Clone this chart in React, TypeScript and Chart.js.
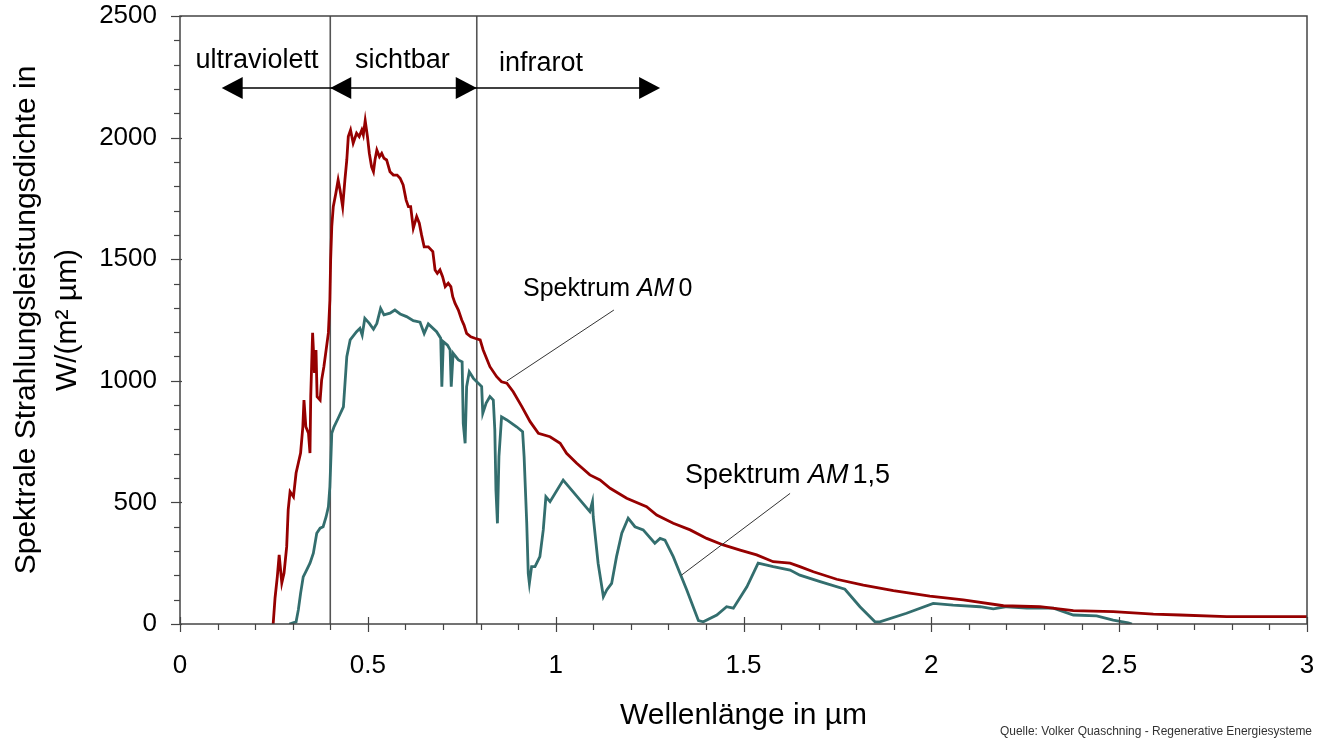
import React, { useEffect, useRef } from "react";
import { Chart, registerables } from "chart.js";

Chart.register(...registerables);

// ---------- data ----------
const am0Wavelength = [
  0.248, 0.253, 0.259, 0.264, 0.271, 0.277, 0.284, 0.288, 0.293, 0.302, 0.309, 0.315, 0.321, 0.327, 0.33, 0.335,
  0.342, 0.346, 0.348, 0.353, 0.358, 0.362, 0.365, 0.373, 0.377, 0.383, 0.389, 0.395, 0.399, 0.401, 0.404, 0.408,
  0.415, 0.421, 0.426, 0.433, 0.439, 0.444, 0.448, 0.454, 0.461, 0.47, 0.477, 0.484, 0.488, 0.493, 0.499, 0.504,
  0.51, 0.515, 0.519, 0.524, 0.531, 0.537, 0.543, 0.55, 0.559, 0.568, 0.578, 0.586, 0.594, 0.602, 0.608, 0.614,
  0.621, 0.63, 0.637, 0.643, 0.65, 0.661, 0.673, 0.679, 0.685, 0.692, 0.699, 0.706, 0.714, 0.721, 0.726, 0.732,
  0.741, 0.75, 0.756, 0.763, 0.774, 0.785, 0.799, 0.807, 0.825, 0.843, 0.856, 0.87, 0.887, 0.91, 0.932, 0.954,
  0.985, 1.012, 1.029, 1.056, 1.091, 1.118, 1.145, 1.189, 1.242, 1.269, 1.313, 1.358, 1.402, 1.446, 1.491, 1.535,
  1.579, 1.624, 1.65, 1.686, 1.748, 1.819, 1.899, 1.996, 2.085, 2.192, 2.289, 2.378, 2.484, 2.591, 2.662, 2.786, 3.0,
];
const am0Value = [
  0, 107, 194, 284, 169, 210, 318, 469, 544, 523, 621, 662, 703, 811, 921, 811,
  785, 703, 935, 1197, 1032, 1127, 935, 921, 1003, 1058, 1127, 1197, 1332, 1497, 1634, 1716,
  1772, 1826, 1785, 1716, 1826, 1908, 2004, 2031, 1977, 2018, 2004, 2031, 2011, 2070, 2004, 1935,
  1880, 1860, 1908, 1949, 1921, 1935, 1915, 1908, 1860, 1846, 1846, 1833, 1805, 1743, 1716, 1716,
  1627, 1675, 1648, 1600, 1551, 1551, 1531, 1456, 1442, 1456, 1428, 1387, 1401, 1387, 1346, 1319,
  1291, 1250, 1229, 1195, 1181, 1175, 1168, 1127, 1058, 1017, 996, 990, 955, 894, 832, 784,
  770, 743, 702, 661, 613, 592, 558, 517, 482, 448, 414, 387, 352, 325, 304, 284,
  256, 250, 236, 215, 184, 160, 137, 115, 99, 75, 71, 55, 51, 41, 37, 30, 30,
];

const am15Wavelength = [
  0.291, 0.309, 0.315, 0.321, 0.328, 0.337, 0.346, 0.355, 0.364, 0.373, 0.381, 0.389, 0.395, 0.399, 0.404, 0.41,
  0.421, 0.435, 0.444, 0.453, 0.47, 0.479, 0.485, 0.492, 0.504, 0.515, 0.524, 0.534, 0.543, 0.559, 0.572, 0.586,
  0.603, 0.621, 0.639, 0.65, 0.661, 0.683, 0.694, 0.697, 0.701, 0.712, 0.719, 0.722, 0.727, 0.741, 0.751, 0.754,
  0.759, 0.763, 0.77, 0.781, 0.794, 0.803, 0.806, 0.815, 0.825, 0.834, 0.838, 0.841, 0.845, 0.849, 0.856, 0.87,
  0.896, 0.912, 0.916, 0.923, 0.927, 0.93, 0.936, 0.945, 0.958, 0.967, 0.974, 0.985, 1.02, 1.091, 1.098, 1.1,
  1.113, 1.127, 1.136, 1.149, 1.162, 1.176, 1.193, 1.211, 1.233, 1.264, 1.278, 1.291, 1.313, 1.349, 1.38, 1.393,
  1.429, 1.455, 1.473, 1.509, 1.539, 1.579, 1.624, 1.65, 1.704, 1.77, 1.81, 1.85, 1.863, 1.934, 2.005, 2.058,
  2.13, 2.165, 2.201, 2.254, 2.325, 2.378, 2.44, 2.484, 2.524, 2.534,
];
const am15Value = [
  0, 9, 58, 126, 194, 222, 250, 291, 373, 394, 400, 441, 482, 565, 784, 811,
  846, 893, 1099, 1168, 1202, 1216, 1188, 1257, 1236, 1212, 1236, 1298, 1271, 1278, 1291, 1275,
  1264, 1247, 1241, 1195, 1234, 1202, 1175, 976, 1161, 1147, 1127, 976, 1113, 1086, 1078, 825,
  743, 976, 1037, 1010, 990, 976, 866, 908, 935, 921, 798, 551, 414, 688, 852, 839,
  811, 791, 688, 414, 208, 167, 236, 236, 277, 387, 523, 503, 592, 462, 503, 441,
  250, 112, 140, 167, 277, 373, 435, 400, 387, 332, 352, 345, 277, 140, 14, 9,
  37, 71, 65, 153, 250, 236, 222, 201, 174, 143, 71, 9, 9, 44, 85, 78,
  71, 62, 71, 65, 65, 37, 33, 16, 5, 0,
];

const xTickValues = [0, 0.5, 1, 1.5, 2, 2.5, 3];
const xTickLabels = ["0", "0.5", "1", "1.5", "2", "2.5", "3"];
const yTickValues = [0, 500, 1000, 1500, 2000, 2500];
const yTickLabels = ["0", "500", "1000", "1500", "2000", "2500"];

const regionBounds = [0.4, 0.79];
const regionLabels = ["ultraviolett", "sichtbar", "infrarot"];

const xTitle = "Wellenlänge in µm";
const yTitle = ["Spektrale Strahlungsleistungsdichte in", "W/(m² µm)"];
const sourceText = "Quelle: Volker Quaschning - Regenerative Energiesysteme";

// annotation placement (data coordinates)
const regionLabelX = [0.205, 0.592, 0.961];
const regionLabelY = [2286, 2286, 2274];
const arrowY = 2204;
const uvArrowTip = 0.111;
const irArrowTip = 1.278;
const am0Label = { x: 0.913, y: 1349, size: 25, lx1: 1.155, ly1: 1291, lx2: 0.87, ly2: 999 };
const am15Label = { x: 1.344, y: 580, size: 27, lx1: 1.624, ly1: 537, lx2: 1.335, ly2: 201 };

const FONT = '"Liberation Sans", Arial, Helvetica, sans-serif';
const RED = "#960000";
const TEAL = "#336e6e";

function toPoints(xs: number[], ys: number[]) {
  return xs.map((x, i) => ({ x, y: ys[i] }));
}

const overlayPlugin = {
  id: "overlay",
  beforeDatasetsDraw(chart: any) {
    const { ctx, chartArea: a, scales } = chart;
    const x = scales.x;
    ctx.save();
    ctx.strokeStyle = "#555555";
    ctx.lineWidth = 1.6;
    for (const b of regionBounds) {
      const px = x.getPixelForValue(b);
      ctx.beginPath();
      ctx.moveTo(px, a.top);
      ctx.lineTo(px, a.bottom);
      ctx.stroke();
    }
    ctx.restore();
  },
  afterDraw(chart: any) {
    const { ctx, chartArea: a, scales } = chart;
    const x = scales.x;
    const y = scales.y;
    ctx.save();

    // frame
    ctx.strokeStyle = "#444444";
    ctx.lineWidth = 1.5;
    ctx.strokeRect(a.left, a.top, a.right - a.left, a.bottom - a.top);

    // y ticks
    ctx.lineWidth = 1.2;
    for (let v = 0; v <= 2500; v += 100) {
      const py = Math.round(y.getPixelForValue(v)) + 0.5;
      const major = v % 500 === 0;
      ctx.beginPath();
      ctx.moveTo(a.left - (major ? 9 : 6), py);
      ctx.lineTo(a.left + (major ? 2 : 0), py);
      ctx.stroke();
    }
    // x ticks
    for (let i = 0; i <= 30; i++) {
      const v = i / 10;
      const px = Math.round(x.getPixelForValue(v)) + 0.5;
      const major = i % 5 === 0;
      ctx.beginPath();
      ctx.moveTo(px, a.bottom - (major ? 7 : 0));
      ctx.lineTo(px, a.bottom + (major ? 8 : 6));
      ctx.stroke();
    }

    // arrows
    const ay = y.getPixelForValue(arrowY);
    const head = (tip: number, dir: number) => {
      ctx.beginPath();
      ctx.moveTo(tip, ay);
      ctx.lineTo(tip - dir * 21, ay - 11);
      ctx.lineTo(tip - dir * 21, ay + 11);
      ctx.closePath();
      ctx.fill();
    };
    ctx.strokeStyle = "#000";
    ctx.fillStyle = "#000";
    ctx.lineWidth = 1.5;
    const b0 = x.getPixelForValue(regionBounds[0]);
    const b1 = x.getPixelForValue(regionBounds[1]);
    const uv = x.getPixelForValue(uvArrowTip);
    const ir = x.getPixelForValue(irArrowTip);
    ctx.beginPath();
    ctx.moveTo(uv + 5, ay);
    ctx.lineTo(ir - 5, ay);
    ctx.stroke();
    head(uv, -1);
    head(b0, -1);
    head(b1, 1);
    head(ir, 1);

    // region labels
    ctx.font = `27px ${FONT}`;
    ctx.textAlign = "center";
    ctx.textBaseline = "alphabetic";
    regionLabels.forEach((t, i) => {
      ctx.fillText(t, x.getPixelForValue(regionLabelX[i]), y.getPixelForValue(regionLabelY[i]));
    });

    // spectrum labels
    const drawSpec = (lab: any, tail: string) => {
      ctx.strokeStyle = "#333";
      ctx.lineWidth = 1;
      ctx.beginPath();
      ctx.moveTo(x.getPixelForValue(lab.lx1), y.getPixelForValue(lab.ly1));
      ctx.lineTo(x.getPixelForValue(lab.lx2), y.getPixelForValue(lab.ly2));
      ctx.stroke();
      let px = x.getPixelForValue(lab.x);
      const py = y.getPixelForValue(lab.y);
      ctx.textAlign = "left";
      ctx.fillStyle = "#000";
      ctx.font = `${lab.size}px ${FONT}`;
      const p1 = "Spektrum ";
      ctx.fillText(p1, px, py);
      px += ctx.measureText(p1).width;
      ctx.font = `italic ${lab.size}px ${FONT}`;
      ctx.fillText("AM", px, py);
      px += ctx.measureText("AM").width + 4;
      ctx.font = `${lab.size}px ${FONT}`;
      ctx.fillText(tail, px, py);
    };
    drawSpec(am0Label, "0");
    drawSpec(am15Label, "1,5");

    // source
    ctx.font = `13px "Liberation Sans Narrow", ${FONT}`;
    ctx.fillStyle = "#333";
    ctx.textAlign = "right";
    ctx.fillText(sourceText, 1312, 735, 312);

    ctx.restore();
  },
};

export default function App() {
  const ref = useRef<HTMLCanvasElement | null>(null);

  useEffect(() => {
    if (!ref.current) return;
    const chart = new Chart(ref.current, {
      type: "line",
      data: {
        datasets: [
          {
            label: "Spektrum AM 0",
            data: toPoints(am0Wavelength, am0Value),
            borderColor: RED,
            borderWidth: 2.8,
            pointRadius: 0,
            tension: 0,
            fill: false,
          },
          {
            label: "Spektrum AM 1,5",
            data: toPoints(am15Wavelength, am15Value),
            borderColor: TEAL,
            borderWidth: 2.8,
            pointRadius: 0,
            tension: 0,
            fill: false,
          },
        ],
      },
      options: {
        animation: false,
        responsive: false,
        devicePixelRatio: 1,
        layout: { padding: { left: 0, right: 13, top: 16, bottom: 0 } },
        plugins: {
          legend: { display: false },
          tooltip: { enabled: false },
        },
        scales: {
          x: {
            type: "linear",
            min: 0,
            max: 3,
            grid: { display: false, drawTicks: false },
            border: { display: false },
            afterBuildTicks: (s: any) => {
              s.ticks = xTickValues.map((v) => ({ value: v }));
            },
            afterFit: (s: any) => {
              s.height = 115;
              s.paddingLeft = 0;
              s.paddingRight = 0;
              s.paddingTop = 0;
              s.paddingBottom = 0;
            },
            ticks: {
              padding: 26,
              color: "#000",
              font: { family: FONT, size: 26 },
              maxRotation: 0,
              callback: (v: any) => {
                const i = xTickValues.indexOf(Number(v));
                return i >= 0 ? xTickLabels[i] : "";
              },
            },
            title: {
              display: true,
              text: xTitle,
              color: "#000",
              font: { family: FONT, size: 30 },
              padding: { top: 0, bottom: 5 },
            },
          },
          y: {
            type: "linear",
            min: 0,
            max: 2500,
            grid: { display: false, drawTicks: false },
            border: { display: false },
            afterBuildTicks: (s: any) => {
              s.ticks = yTickValues.map((v) => ({ value: v }));
            },
            afterFit: (s: any) => {
              s.width = 180;
              s.paddingLeft = 0;
              s.paddingRight = 0;
              s.paddingTop = 0;
              s.paddingBottom = 0;
            },
            ticks: {
              padding: 23,
              color: "#000",
              font: { family: FONT, size: 26 },
              callback: (v: any) => {
                const i = yTickValues.indexOf(Number(v));
                return i >= 0 ? yTickLabels[i] : "";
              },
            },
            title: {
              display: true,
              text: yTitle,
              color: "#000",
              font: { family: FONT, size: 30, lineHeight: 1.37 },
              padding: { top: 6, bottom: 0 },
            },
          },
        },
      },
      plugins: [overlayPlugin],
    });
    return () => chart.destroy();
  }, []);

  return (
    <div style={{ position: "absolute", left: 0, top: 0, width: 1320, height: 739, background: "#fff" }}>
      <canvas ref={ref} width={1320} height={739} style={{ display: "block" }} />
    </div>
  );
}
